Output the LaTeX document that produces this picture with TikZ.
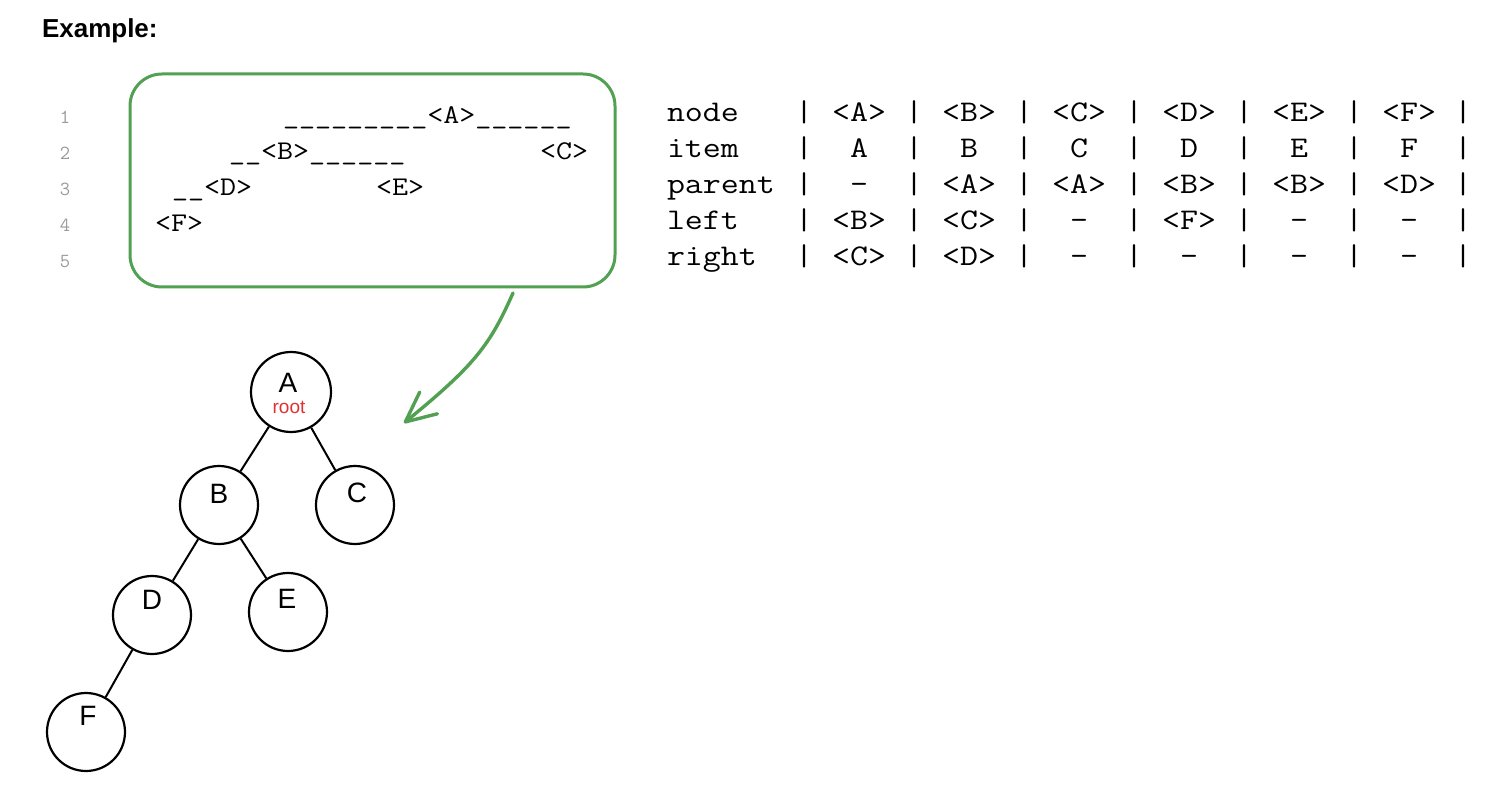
\documentclass[tikz,border=0pt]{standalone}
\usepackage{fontspec}
\usetikzlibrary{arrows.meta}
\newfontfamily\handfont{Liberation Sans}
\newfontfamily\headfont{Liberation Sans}
\definecolor{exgreen}{RGB}{82,160,82}
\definecolor{rootred}{RGB}{224,49,49}
\definecolor{lngray}{RGB}{155,155,155}
\newcommand\tabtxt[1]{\scalebox{1.164}[1]{\ttfamily\fontsize{30}{36}\selectfont #1}}
\newcommand\codetxt[1]{\scalebox{1.153}[1]{\ttfamily\fontsize{27}{32}\selectfont #1}}
\tikzset{
  txt/.style={inner sep=0pt, outer sep=0pt},
  tnode/.style={circle, draw=black, line width=2.2pt, minimum size=78pt, inner sep=0pt},
  tlabel/.style={inner sep=0pt, font=\handfont\fontsize{28}{32}\selectfont},
  edge/.style={draw=black, line width=2pt},
  greenbox/.style={draw=exgreen, line width=3pt, rounded corners=32pt, minimum width=485pt, minimum height=213pt, inner sep=0pt},
  greenarrow/.style={draw=exgreen, line width=3.4pt, line cap=round, -{Straight Barb[length=30pt, width=28pt, line width=3.4pt, round]}},
}
\begin{document}
\begin{tikzpicture}[x=1pt, y=-1pt]
\useasboundingbox (0,0) rectangle (1486,786);

% heading
\node[txt, anchor=base west] (head) at (42,38) {\headfont\bfseries\fontsize{26}{31}\selectfont Example:};

% line numbers
\foreach \n/\y in {1/124,2/160,3/196,4/232,5/268}
  \node[txt, anchor=base, text=lngray] (ln\n) at (65,\y) {\ttfamily\fontsize{20}{24}\selectfont \n};

% code box
\node[greenbox] (box) at (372.5,180.5) {};
\node[txt, anchor=base west] (c1) at (283,124) {\codetxt{\_\_\_\_\_\_\_\_\_<A>\_\_\_\_\_\_}};
\node[txt, anchor=base west] (c2) at (229,160) {\codetxt{\_\_<B>\_\_\_\_\_\_}};
\node[txt, anchor=base west] (c2b) at (540,160) {\codetxt{<C>}};
\node[txt, anchor=base west] (c3) at (172,196) {\codetxt{\_\_<D>}};
\node[txt, anchor=base west] (c3b) at (376,196) {\codetxt{<E>}};
\node[txt, anchor=base west] (c4) at (155,232) {\codetxt{<F>}};

% table
\foreach \y/\lab/\a/\b/\c/\d/\e/\f in {
  122/node/<A>/<B>/<C>/<D>/<E>/<F>,
  158/item/A/B/C/D/E/F,
  194/parent/-/<A>/<A>/<B>/<B>/<D>,
  230/left/<B>/<C>/-/<F>/-/-,
  266/right/<C>/<D>/-/-/-/-}{
  \node[txt, anchor=base west] (row\y) at (667,\y) {\tabtxt{\lab}};
  \foreach \x [count=\k] in {804,914,1024,1134,1244,1354,1463}
    \node[txt, anchor=base] (bar\y-\k) at (\x,\y) {\tabtxt{|}};
  \node[txt, anchor=base] (cell\y-1) at (859,\y) {\tabtxt{\a}};
  \node[txt, anchor=base] (cell\y-2) at (969,\y) {\tabtxt{\b}};
  \node[txt, anchor=base] (cell\y-3) at (1079,\y) {\tabtxt{\c}};
  \node[txt, anchor=base] (cell\y-4) at (1189,\y) {\tabtxt{\d}};
  \node[txt, anchor=base] (cell\y-5) at (1299,\y) {\tabtxt{\e}};
  \node[txt, anchor=base] (cell\y-6) at (1409,\y) {\tabtxt{\f}};
}

% arrow from box to tree
\coordinate (arrS) at (513,293);
\coordinate (arrE) at (404,423);
\draw[greenarrow] (arrS) .. controls (490,345) and (475,365) .. (arrE);

% tree
\node[tnode, minimum size=80pt] (A) at (291,392) {};
\node[tnode] (B) at (219,505) {};
\node[tnode] (C) at (355,505) {};
\node[tnode] (D) at (152,615) {};
\node[tnode] (E) at (288,612) {};
\node[tnode] (F) at (86,732) {};

\node[tlabel] (lA) at (288,383) {A};
\node[txt, text=rootred, font=\handfont\fontsize{19}{22}\selectfont] (lroot) at (289,407) {root};
\node[tlabel] (lB) at (219,494) {B};
\node[tlabel] (lC) at (357,493) {C};
\node[tlabel] (lD) at (152,600) {D};
\node[tlabel] (lE) at (287,599) {E};
\node[tlabel] (lF) at (88,716) {F};

\draw[edge] (A) -- (B);
\draw[edge] (A) -- (C);
\draw[edge] (B) -- (D);
\draw[edge] (B) -- (E);
\draw[edge] (D) -- (F);
\end{tikzpicture}
\end{document}
